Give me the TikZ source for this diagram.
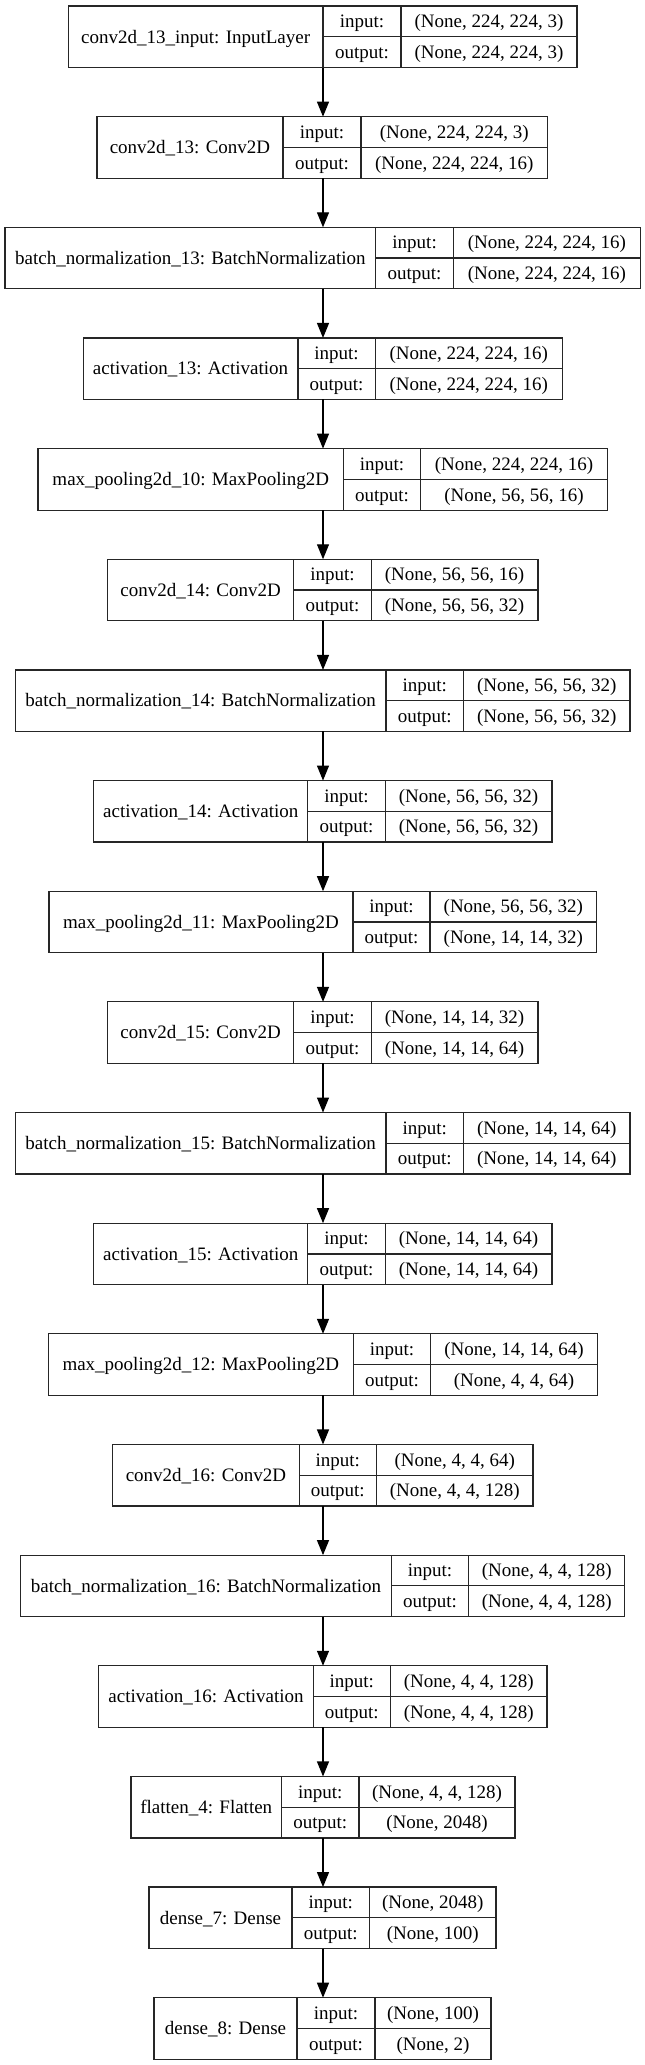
\documentclass[tikz,border=0pt]{standalone}
\usepackage{fontspec}
\setmainfont{Liberation Serif}
\usetikzlibrary{arrows.meta}
\tikzset{
  layerbox/.style={draw=black!85, line width=1.2pt, minimum height=61.5pt, inner sep=0pt, outer sep=0pt, rectangle},
  cellline/.style={draw=black!85, line width=1.2pt},
  lbl/.style={inner sep=0pt, outer sep=0pt, font=\fontsize{19}{22}\selectfont, text=black},
  arr/.style={draw=black, line width=1.2pt, -{Triangle[length=15pt, width=12pt]}}
}
% #1 id, #2 top, #3 left, #4 split1, #5 split2, #6 right, #7 layer name, #8 input shape, #9 output shape
\newcommand{\kerasrow}[9]{%
  \node[layerbox, anchor=north west, minimum width={(#6-#3)*1pt}] (#1) at (#3,-#2) {};
  \draw[cellline] (#4,-#2) -- (#4,{-#2-61.5});
  \draw[cellline] (#5,-#2) -- (#5,{-#2-61.5});
  \draw[cellline] (#4,{-#2-30.75}) -- (#6,{-#2-30.75});
  \node[lbl, anchor=base] (#1n) at ({(#3+#4)/2},{-#2-37}) {#7};
  \node[lbl, anchor=base] (#1i) at ({(#4+#5)/2},{-#2-21.6}) {input:};
  \node[lbl, anchor=base] (#1o) at ({(#4+#5)/2},{-#2-52.4}) {output:};
  \node[lbl, anchor=base] (#1iv) at ({(#5+#6)/2},{-#2-21.6}) {#8};
  \node[lbl, anchor=base] (#1ov) at ({(#5+#6)/2},{-#2-52.4}) {#9};
}
\begin{document}
\begin{tikzpicture}[x=1pt, y=1pt]
\fill[white] (0,0) rectangle (645,-2065);
\useasboundingbox (0,0) rectangle (645,-2065);
\coordinate (ax) at (323,0);
\kerasrow{L1}{6}{68.3}{323}{401}{577}{conv2d\_13\_input: InputLayer}{(None, 224, 224, 3)}{(None, 224, 224, 3)}
\kerasrow{L2}{116.65}{97}{283}{361}{547.5}{conv2d\_13: Conv2D}{(None, 224, 224, 3)}{(None, 224, 224, 16)}
\kerasrow{L3}{227.3}{5}{375.7}{453.5}{640.3}{batch\_normalization\_13: BatchNormalization}{(None, 224, 224, 16)}{(None, 224, 224, 16)}
\kerasrow{L4}{337.95}{83.1}{297.9}{375.3}{562.1}{activation\_13: Activation}{(None, 224, 224, 16)}{(None, 224, 224, 16)}
\kerasrow{L5}{448.6}{37.9}{343.6}{420.6}{607.4}{max\_pooling2d\_10: MaxPooling2D}{(None, 224, 224, 16)}{(None, 56, 56, 16)}
\kerasrow{L6}{559.25}{107.4}{293.8}{371.2}{537.9}{conv2d\_14: Conv2D}{(None, 56, 56, 16)}{(None, 56, 56, 32)}
\kerasrow{L7}{669.9}{15.2}{386}{463.4}{630}{batch\_normalization\_14: BatchNormalization}{(None, 56, 56, 32)}{(None, 56, 56, 32)}
\kerasrow{L8}{780.55}{93.8}{307.8}{385.2}{551.9}{activation\_14: Activation}{(None, 56, 56, 32)}{(None, 56, 56, 32)}
\kerasrow{L9}{891.2}{49}{353}{430}{596.7}{max\_pooling2d\_11: MaxPooling2D}{(None, 56, 56, 32)}{(None, 14, 14, 32)}
\kerasrow{L10}{1001.85}{107.4}{293.8}{371.2}{537.9}{conv2d\_15: Conv2D}{(None, 14, 14, 32)}{(None, 14, 14, 64)}
\kerasrow{L11}{1112.5}{15.2}{386}{463.4}{630}{batch\_normalization\_15: BatchNormalization}{(None, 14, 14, 64)}{(None, 14, 14, 64)}
\kerasrow{L12}{1223.15}{93.8}{307.8}{385.2}{551.9}{activation\_15: Activation}{(None, 14, 14, 64)}{(None, 14, 14, 64)}
\kerasrow{L13}{1333.8}{48.1}{353.5}{430.5}{597.5}{max\_pooling2d\_12: MaxPooling2D}{(None, 14, 14, 64)}{(None, 4, 4, 64)}
\kerasrow{L14}{1444.45}{112.8}{299.2}{376.5}{532.9}{conv2d\_16: Conv2D}{(None, 4, 4, 64)}{(None, 4, 4, 128)}
\kerasrow{L15}{1555.1}{20.6}{391.4}{468.7}{624.7}{batch\_normalization\_16: BatchNormalization}{(None, 4, 4, 128)}{(None, 4, 4, 128)}
\kerasrow{L16}{1665.75}{98.8}{313.2}{390.5}{546.9}{activation\_16: Activation}{(None, 4, 4, 128)}{(None, 4, 4, 128)}
\kerasrow{L17}{1776.4}{131}{281.5}{359}{515}{flatten\_4: Flatten}{(None, 4, 4, 128)}{(None, 2048)}
\kerasrow{L18}{1887.05}{149}{292}{369.5}{496}{dense\_7: Dense}{(None, 2048)}{(None, 100)}
\kerasrow{L19}{1997.7}{154}{297}{375}{491}{dense\_8: Dense}{(None, 100)}{(None, 2)}
\foreach \a/\b in {L1/L2,L2/L3,L3/L4,L4/L5,L5/L6,L6/L7,L7/L8,L8/L9,L9/L10,L10/L11,L11/L12,L12/L13,L13/L14,L14/L15,L15/L16,L16/L17,L17/L18,L18/L19}
  \draw[arr] (ax |- \a.south) -- (ax |- \b.north);
\end{tikzpicture}
\end{document}
